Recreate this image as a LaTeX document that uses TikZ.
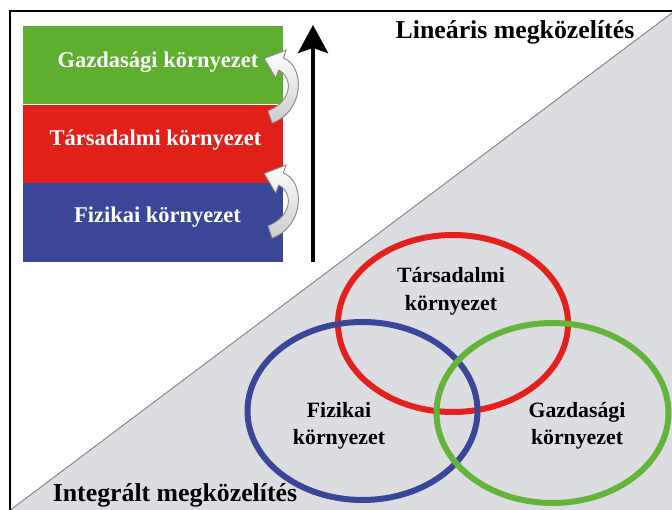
\documentclass[tikz,border=0pt]{standalone}
\usepackage{fontspec}
\setmainfont{Liberation Serif}
\usetikzlibrary{arrows.meta}
\definecolor{boxgreen}{HTML}{5EAE30}
\definecolor{boxred}{HTML}{E2201A}
\definecolor{boxblue}{HTML}{3A4697}
\definecolor{ringred}{HTML}{E3201B}
\definecolor{ringblue}{HTML}{3A4698}
\definecolor{ringgreen}{HTML}{62B43A}
\definecolor{bggray}{HTML}{DCDDE1}
\definecolor{arrowgray}{HTML}{8A8A8A}
\tikzset{
  layerbox/.style={draw=none, minimum width=260pt, minimum height=78.5pt, inner sep=0pt, outer sep=0pt},
  layertext/.style={text=white, font=\fontsize{22.5}{27}\selectfont\bfseries},
  ringtext/.style={align=center, font=\fontsize{21.8}{27.5}\selectfont\bfseries},
  titletext/.style={font=\fontsize{25.8}{30}\selectfont\bfseries},
  ring/.style={line width=6pt},
  curlyarrow/.style={top color=white, bottom color=gray!40, draw=arrowgray, line width=0.9pt, line join=round}
}
\begin{document}
\begin{tikzpicture}[x=1pt,y=-1pt]
\useasboundingbox (0,0) rectangle (672,510);
\fill[white] (0,0) rectangle (672,510);
% gray triangle (integrated approach)
\fill[bggray] (10.3,510) -- (672,13) -- (672,510) -- cycle;
\draw[gray, line width=0.9pt] (10.3,510) -- (672,13);
% frame
\draw[black, line width=2.5pt] (10,512) -- (10,11) -- (674,11);
% layered boxes
\node[layerbox, fill=boxgreen] (gbox) at (153,65) {};
\node[layerbox, fill=boxred] (tbox) at (153,144) {};
\node[layerbox, fill=boxblue] (fbox) at (153,222.5) {};
\node[layertext] (gtxt) at (158,62) {Gazdasági környezet};
\node[layertext] (ttxt) at (155.5,140) {Társadalmi környezet};
\node[layertext] (ftxt) at (157.5,217) {Fizikai környezet};
% curved white arrows
\foreach \dy in {0,115}{
  \begin{scope}[yshift=-\dy pt]
  \filldraw[curlyarrow]
    (272.1,123.1) .. controls (305,111) and (305,66) .. (283.3,57.9)
    -- (286.3,50) -- (264.2,58.5) -- (275.7,78) -- (278.7,70.1)
    .. controls (293,77) and (293,101) .. (267.9,110.9) -- cycle;
  \end{scope}
}
% vertical black arrow
\coordinate (abot) at (313,262);
\coordinate (atop) at (313,25);
\draw[line width=4pt, -{Stealth[length=28pt,width=30pt,inset=5pt]}] (abot) -- (atop);
% titles
\node[titletext] (lin) at (515,32) {Lineáris megközelítés};
\node[titletext] (int) at (175,495) {Integrált megközelítés};
% rings
\draw[ring, ringred] (453,323.5) ellipse [x radius=115pt, y radius=88.5pt];
\draw[ring, ringblue] (362.5,411) ellipse [x radius=115pt, y radius=89pt];
\draw[ring, ringgreen] (552.5,413) ellipse [x radius=116pt, y radius=90pt];
\node[ringtext] (ttxt2) at (451,291.5) {Társadalmi\\környezet};
\node[ringtext] (ftxt2) at (339,426) {Fizikai\\környezet};
\node[ringtext] (gtxt2) at (577,426) {Gazdasági\\környezet};
\end{tikzpicture}
\end{document}
